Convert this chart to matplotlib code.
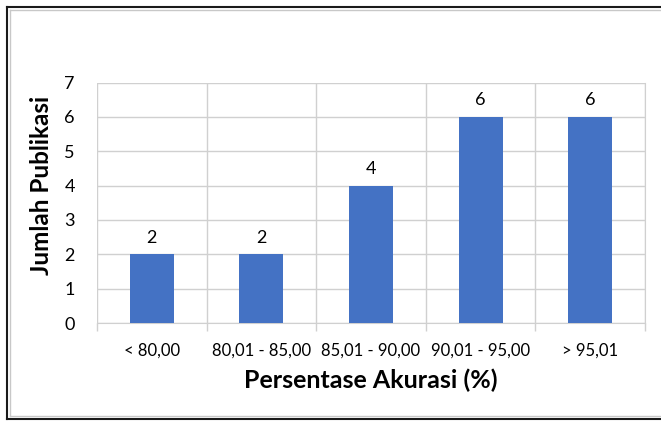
import numpy as np
import matplotlib.pyplot as plt
from matplotlib.lines import Line2D

# data
kategori = ["< 80,00", "80,01 - 85,00", "85,01 - 90,00", "90,01 - 95,00", "> 95,01"]
jumlah = [2, 2, 4, 6, 6]

plt.rcParams['font.family'] = ['Lato', 'DejaVu Sans']

W, H = 661, 421
fig = plt.figure(figsize=(W / 100, H / 100), dpi=100)

# frame around the chart (cut at the right side)
fig.add_artist(Line2D([7 / W, 1.0], [1 - 7 / H, 1 - 7 / H], color="#1a1a1a", lw=1.5))
fig.add_artist(Line2D([7 / W, 7 / W], [1 - 7 / H, 1 - 419 / H], color="#1a1a1a", lw=1.5))
fig.add_artist(Line2D([7 / W, 1.0], [1 - 419 / H, 1 - 419 / H], color="#1a1a1a", lw=1.5))
fig.add_artist(Line2D([10 / W, 1.0], [1 - 10 / H, 1 - 10 / H], color="#c8c8c8", lw=1))
fig.add_artist(Line2D([10 / W, 10 / W], [1 - 10 / H, 1 - 416 / H], color="#c8c8c8", lw=1))
fig.add_artist(Line2D([10 / W, 1.0], [1 - 416 / H, 1 - 416 / H], color="#c8c8c8", lw=1))

left, right, top, bottom = 97, 645, 82.5, 323
ax = fig.add_axes([left / W, 1 - bottom / H, (right - left) / W, (bottom - top) / H])

x = np.arange(len(kategori))
bars = ax.bar(x, jumlah, width=0.40, color="#4472C4", zorder=3)
for b, v in zip(bars, jumlah):
    ax.text(b.get_x() + b.get_width() / 2, v + 0.25, str(v), ha="center", va="bottom",
            fontsize=13, color="#000000")

ax.set_xlim(-0.5, len(kategori) - 0.5)
ax.set_ylim(0, 7)
ax.set_yticks(range(0, 8))
ax.set_xticks(x)
ax.set_xticklabels(kategori)
ax.set_xticks(np.arange(-0.5, len(kategori)), minor=True)

ax.grid(True, which="major", axis="y", color="#d0d0d0", lw=1, zorder=0)
ax.grid(True, which="minor", axis="x", color="#d0d0d0", lw=1, zorder=0)
for s in ax.spines.values():
    s.set_visible(False)
ax.spines["bottom"].set_visible(True)
ax.spines["bottom"].set_color("#d0d0d0")
ax.spines["right"].set_visible(True)
ax.spines["right"].set_color("#d0d0d0")

ax.tick_params(axis="x", which="major", length=0, labelsize=12, pad=14)
ax.tick_params(axis="x", which="minor", length=6, color="#d0d0d0", width=1)
ax.tick_params(axis="y", length=0, labelsize=13, pad=16)

ax.set_xlabel("Persentase Akurasi (%)", fontsize=18, fontweight="bold", labelpad=7)
ax.set_ylabel("Jumlah Publikasi", fontsize=17.5, fontweight="bold")
ax.yaxis.set_label_coords(-0.080, 0.57)

fig.savefig("out.png", dpi=100)
